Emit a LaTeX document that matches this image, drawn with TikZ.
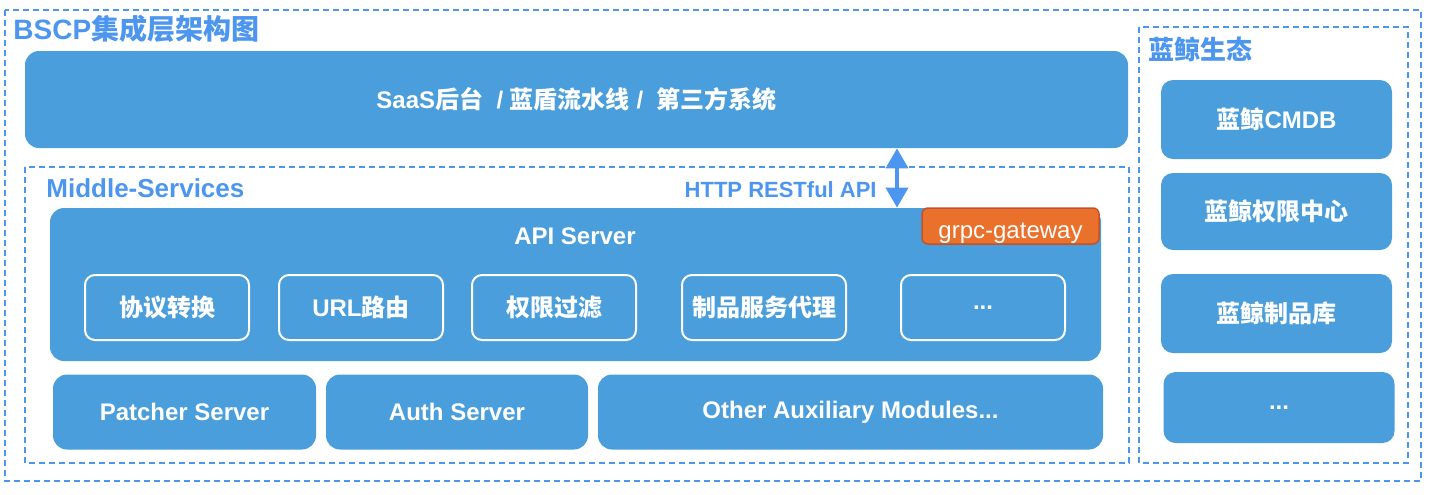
\documentclass[tikz,border=0pt]{standalone}
\usepackage{fontspec}
\setmainfont{Liberation Sans}
\newfontfamily\cjk{Noto Sans CJK SC}
\usetikzlibrary{arrows.meta}
\newcommand\zh[1]{{\cjk #1}}
\definecolor{boxblue}{HTML}{4A9EDC}
\definecolor{lineblue}{HTML}{4D96F0}
\definecolor{gwfill}{HTML}{E9712C}
\definecolor{gwdraw}{HTML}{C4512C}
\begin{document}
\begin{tikzpicture}[x=0.5pt,y=-0.5pt,
                frame/.style={draw=lineblue, dash pattern=on 3pt off 2pt, line width=1pt},
                heading/.style={text=lineblue, font=\bfseries\fontsize{13}{15}\selectfont, anchor=west, inner sep=0pt},
                box/.style={fill=boxblue, rounded corners=7pt, text=white, inner sep=0pt,
                            font=\bfseries\fontsize{12}{14}\selectfont},
                subbox/.style={draw=white, line width=1pt, rounded corners=5pt, text=white, inner sep=0pt,
                            minimum width=82pt, minimum height=32.5pt, font=\bfseries\fontsize{12}{14}\selectfont},
                eco/.style={box, rounded corners=6pt, minimum width=115.5pt},
                link/.style={draw=lineblue, line width=2pt, {Triangle[width=11pt,length=10pt]}-{Triangle[width=11pt,length=10pt]}}
            ]
            \useasboundingbox (0,0) rectangle (1434,494);
            \draw[frame] (5,10) rectangle (1421,481);
            \draw[frame] (25,167) rectangle (1129,463);
            \draw[frame] (1139,27) rectangle (1408,463);
            \node[heading, font=\bfseries\fontsize{14}{16}\selectfont] (title) at (13,29) {BSCP\zh{集成层架构图}};
            \node[heading] (midtitle) at (46,188) {Middle-Services};
            \node[heading] (ecotitle) at (1148,49) {\zh{蓝鲸生态}};

            \node[box, minimum width=551.5pt, minimum height=48.5pt] (saas) at (576.5,99.5)
                {SaaS\zh{后台}\ \ / \zh{蓝盾流水线} /\ \ \zh{第三方系统}};
            \node[box, minimum width=525.5pt, minimum height=76.5pt] (api) at (575.5,284.5) {};
            \node[text=white, font=\bfseries\fontsize{12}{14}\selectfont] (apilbl) at (575,236) {API Server};
            \node[fill=gwfill, draw=gwdraw, line width=0.75pt, rounded corners=3pt, text=white, inner sep=0pt,
                  text height=15pt, minimum width=88.5pt, minimum height=18pt, font=\fontsize{12}{14}\selectfont] (gw) at (1010.5,226) {grpc-gateway};

            \node[subbox] (proto) at (167,307.5) {\zh{协议转换}};
            \node[subbox] (route) at (361,307.5) {URL\zh{路由}};
            \node[subbox] (auth) at (554,307.5) {\zh{权限过滤}};
            \node[subbox] (proxy) at (764,307.5) {\zh{制品服务代理}};
            \node[subbox] (more) at (983,307.5) {...};

            \node[box, minimum width=131.5pt, minimum height=37.5pt] (patcher) at (184.5,412) {Patcher Server};
            \node[box, minimum width=131pt, minimum height=37.5pt] (authsrv) at (457,412) {Auth Server};
            \node[box, minimum width=252.5pt, minimum height=37.5pt] (other) at (850.5,412) {Other Auxiliary Modules...};

            \node[eco, minimum height=39.5pt] (cmdb) at (1276.5,119.5) {\zh{蓝鲸}CMDB};
            \node[eco, minimum height=38.5pt] (iam) at (1276.5,211.5) {\zh{蓝鲸权限中心}};
            \node[eco, minimum height=39.5pt] (repo) at (1276.5,313.5) {\zh{蓝鲸制品库}};
            \node[eco, minimum height=35.5pt] (ecomore) at (1279,407.5) {...};

            \coordinate (ax) at (897,0);
            \draw[link] (saas.south -| ax) -- (api.north -| ax);
            \node[text=lineblue, anchor=east, inner sep=0pt, font=\bfseries\fontsize{11}{13}\selectfont] (http) at (877,190) {HTTP RESTful API};
        \end{tikzpicture}
\end{document}
